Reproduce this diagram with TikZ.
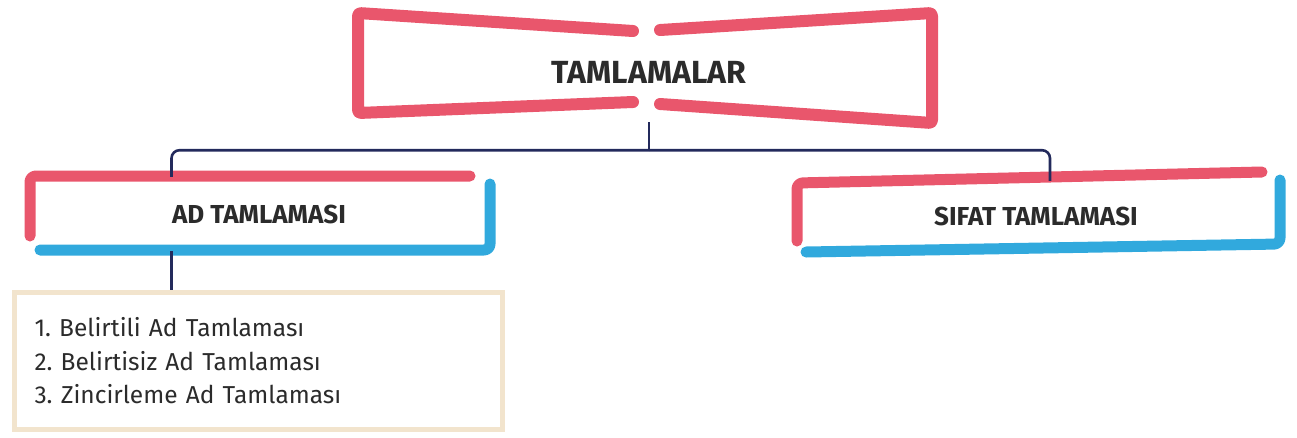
\documentclass[tikz,border=0pt]{standalone}
\usepackage{fontspec}
\setmainfont{Fira Sans}
\usetikzlibrary{calc, positioning}
\definecolor{tpink}{HTML}{E9566C}
\definecolor{tblue}{HTML}{31A9DD}
\definecolor{tnavy}{HTML}{232A5C}
\definecolor{tbeige}{HTML}{F2E4CD}
\definecolor{tgray}{HTML}{2B2B2B}
\frenchspacing
\tikzset{
	pinkline/.style={draw=tpink, line width=11pt, line cap=round, line join=round, rounded corners=6pt},
	blueline/.style={draw=tblue, line width=11pt, line cap=round, line join=round, rounded corners=6pt},
	bus/.style={draw=tnavy, line width=2.6pt},
	head/.style={font=\bfseries\fontsize{26}{30}\selectfont, text=tgray, inner sep=0pt},
}

\begin{document}
\begin{tikzpicture}[x=1pt, y=-1pt]
	\useasboundingbox (0,0) rectangle (1297,437);

	% main title with its split frame
	\node (title) [head, font=\bfseries\fontsize{32}{36}\selectfont, minimum width=580pt, minimum height=100pt] at (649,72) {TAMLAMALAR};
	\draw [pinkline, line width=12pt, rounded corners=3pt] (633,31) -- (358,13) -- (358,113) -- (633,102);
	\draw [pinkline, line width=12pt, rounded corners=3pt] (660,30) -- (932,13) -- (932,123) -- (660,104);

	% the two kinds
	\node (ad) [head, minimum width=460pt, minimum height=74pt] at (259,214) {AD TAMLAMASI};
	\draw [pinkline] (470,176) -- (30,176) -- (30,236);
	\draw [blueline] (490,184) -- (490,250) -- (40,250);

	\node (sifat) [head, minimum width=483pt, minimum height=70pt] at (1036,216) {SIFAT TAMLAMASI};
	\draw [pinkline] (1262,172) -- (797,183) -- (797,241);
	\draw [blueline] (1280,180) -- (1280,244) -- (806,252);

	% list of noun compounds
	\node (list) [draw=tbeige, line width=5pt, anchor=north west, minimum width=488pt, minimum height=137pt,%
		inner xsep=20pt, text width=448pt, align=left, text=tgray, font=\fontsize{24.5}{33.5}\selectfont] at (12,290)
		{1. Belirtili Ad Tamlaması\\ 2. Belirtisiz Ad Tamlaması\\ 3. Zincirleme Ad Tamlaması};

	% connectors
	\draw [bus] (title.south) -- ++(0,28) coordinate (split);
	\draw [bus, rounded corners=8pt] (split) -| ($(ad.north west)!.31!(ad.north east)$);
	\draw [bus, rounded corners=8pt] (split) -| ($(sifat.north)+(14,0)$);
	\draw [bus] ($(ad.south west)!.31!(ad.south east)$) coordinate (adlow) -- (adlow |- list.north);
\end{tikzpicture}
\end{document}
